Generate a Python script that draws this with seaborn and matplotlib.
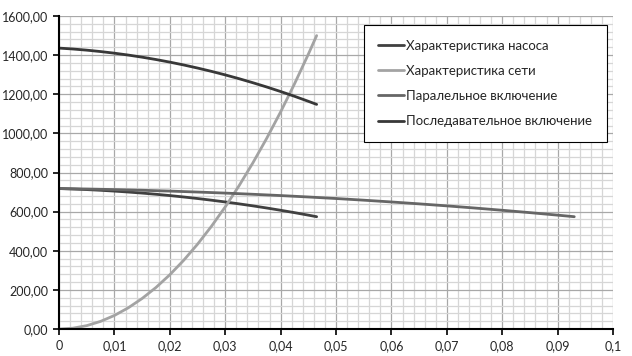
import numpy as np
import pandas as pd
import seaborn as sns
import matplotlib.pyplot as plt
from matplotlib.ticker import MultipleLocator, FuncFormatter

# расход, м3/с
q_pump = [0, 0.0025, 0.005, 0.0075, 0.01, 0.0125, 0.015, 0.0175, 0.02, 0.0225,
          0.025, 0.0275, 0.03, 0.0325, 0.035, 0.0375, 0.04, 0.0425, 0.045, 0.0465]
h_pump = [718.0, 715.7, 712.8, 709.2, 705.0, 700.2, 694.8, 688.8, 682.2, 674.9,
          667.1, 658.6, 649.5, 639.8, 629.5, 618.6, 607.0, 594.9, 582.1, 574.1]
h_net = [0, 4.3, 17.3, 39.0, 69.4, 108.4, 156.1, 212.4, 277.5, 351.2,
         433.6, 524.6, 624.3, 732.7, 849.8, 975.5, 1109.9, 1253.0, 1404.7, 1500.0]
q_par = [0, 0.005, 0.01, 0.015, 0.02, 0.025, 0.03, 0.035, 0.04, 0.045,
         0.05, 0.055, 0.06, 0.065, 0.07, 0.075, 0.08, 0.085, 0.09, 0.093]
h_ser = [1436.0, 1431.4, 1425.5, 1418.3, 1410.0, 1400.4, 1389.6, 1377.6, 1364.3, 1349.8,
         1334.1, 1317.2, 1299.0, 1279.6, 1258.9, 1237.1, 1214.0, 1189.7, 1164.1, 1148.2]

series = [
    ("Характеристика насоса", q_pump, h_pump, "#404040"),
    ("Характеристика сети", q_pump, h_net, "#a3a3a3"),
    ("Паралельное включение", q_par, h_pump, "#666666"),
    ("Последавательное включение", q_pump, h_ser, "#383838"),
]

sns.set_style("white")
plt.rcParams['font.family'] = ['Lato', 'DejaVu Sans']

fig = plt.figure(figsize=(6.32, 3.56), dpi=100)
ax = fig.add_axes([0.0934, 0.0758, 0.8766, 0.8792])

for name, q, h, color in series:
    df = pd.DataFrame({"Q": q, "H": h})
    sns.lineplot(data=df, x="Q", y="H", sort=False, color=color, linewidth=2,
                 label=name, ax=ax)

ax.set_xlim(0, 0.1)
ax.set_ylim(0, 1600)
ax.xaxis.set_major_locator(MultipleLocator(0.01))
ax.xaxis.set_minor_locator(MultipleLocator(0.002))
ax.yaxis.set_major_locator(MultipleLocator(200))
ax.yaxis.set_minor_locator(MultipleLocator(40))
ax.grid(which="major", color="#a8a8a8", linewidth=0.9)
ax.grid(which="minor", color="#d6d6d6", linewidth=0.9)
ax.set_axisbelow(True)

ax.xaxis.set_major_formatter(FuncFormatter(lambda v, p: ("%g" % round(v, 4)).replace(".", ",")))
ax.yaxis.set_major_formatter(FuncFormatter(lambda v, p: ("%.2f" % v).replace(".", ",")))
ax.tick_params(axis="both", which="major", direction="out", length=4, width=1.2,
               color="black", labelsize=9, bottom=True, left=True, pad=4)
ax.tick_params(which="minor", length=0)

for s in ["top", "right"]:
    ax.spines[s].set_visible(False)
for s in ["left", "bottom"]:
    ax.spines[s].set_color("black")
    ax.spines[s].set_linewidth(1.5)

ax.set_xlabel("")
ax.set_ylabel("")

leg = ax.legend(loc="upper right", bbox_to_anchor=(0.989, 0.971), fontsize=9.5,
                frameon=True, fancybox=False, edgecolor="black", framealpha=1,
                handlelength=2.0, handletextpad=0.15, labelspacing=1.0,
                borderpad=1.1, borderaxespad=0)
leg.get_frame().set_linewidth(0.8)

fig.savefig("out.png", dpi=100)
